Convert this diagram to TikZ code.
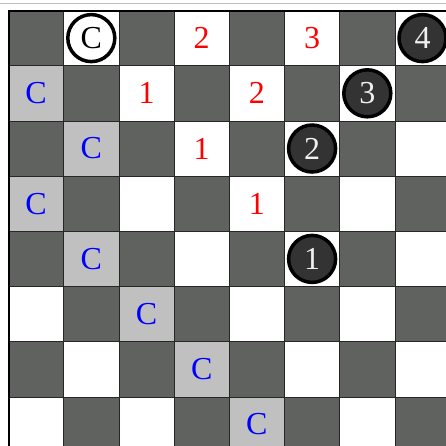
\documentclass[tikz,border=0pt]{standalone}
\usepackage{fontspec}
\setmainfont{Liberation Serif}
\definecolor{darksq}{HTML}{5F625F}
\definecolor{hilite}{HTML}{C0C0C0}
\definecolor{piecefill}{HTML}{333333}
\tikzset{
  sqdark/.style={fill=darksq},
  sqlight/.style={fill=white},
  sqhi/.style={fill=hilite},
  gridline/.style={line width=0.8pt, draw=black!85},
  borderline/.style={line width=2pt, draw=black},
  redlbl/.style={text=red, font=\fontsize{32}{32}\selectfont, inner sep=0pt},
  bluelbl/.style={text=blue, font=\fontsize{32}{32}\selectfont, inner sep=0pt},
  blackpiece/.style={circle, draw=black, line width=3.5pt, fill=piecefill, minimum size=47pt, inner sep=0pt, text=white!94!black, font=\fontsize{32}{32}\selectfont},
  whitepiece/.style={circle, draw=black, line width=3.5pt, fill=white, minimum size=47pt, inner sep=0pt, text=black, font=\fontsize{32}{32}\selectfont}
}
\begin{document}
\begin{tikzpicture}[x=1pt,y=-1pt]
\useasboundingbox (0,0) rectangle (446,445);
\fill[white] (0,0) rectangle (446,445);
\draw[line width=0.8pt, draw=black!25] (0,3) -- (446,3);
\begin{scope}
\clip (0,0) rectangle (446,445);
\begin{scope}[shift={(8.5,10.5)}, x=55.2pt, y=-55.2pt]
  \foreach \r in {0,...,7}{
    \foreach \c in {0,...,7}{
      \pgfmathtruncatemacro{\parity}{mod(\r+\c,2)}
      \ifnum\parity=0
        \fill[sqdark] (\c,\r) rectangle ++(1,1);
      \fi
    }
  }
  \foreach \r/\c in {1/0,2/1,3/0,4/1,5/2,6/3,7/4}{
    \fill[sqhi] (\c,\r) rectangle ++(1,1);
  }
  \foreach \i in {1,...,8}{
    \draw[gridline] (\i,0) -- (\i,8);
    \draw[gridline] (0,\i) -- (8,\i);
  }
  \draw[borderline] (0,8) -- (0,0) -- (8,0);
  % red numbers
  \node[redlbl] (r03) at (3.5,0.5) {2};
  \node[redlbl] (r05) at (5.5,0.5) {3};
  \node[redlbl] (r12) at (2.5,1.5) {1};
  \node[redlbl] (r14) at (4.5,1.5) {2};
  \node[redlbl] (r23) at (3.5,2.5) {1};
  \node[redlbl] (r34) at (4.5,3.5) {1};
  % blue C
  \node[bluelbl] (b10) at (0.5,1.5) {C};
  \node[bluelbl] (b21) at (1.5,2.5) {C};
  \node[bluelbl] (b30) at (0.5,3.5) {C};
  \node[bluelbl] (b41) at (1.5,4.5) {C};
  \node[bluelbl] (b52) at (2.5,5.5) {C};
  \node[bluelbl] (b63) at (3.5,6.5) {C};
  \node[bluelbl] (b74) at (4.5,7.5) {C};
  % pieces
  \node[whitepiece] (wC) at (1.5,0.5) {C};
  \node[blackpiece] (p4) at (7.5,0.5) {4};
  \node[blackpiece] (p3) at (6.5,1.5) {3};
  \node[blackpiece] (p2) at (5.5,2.5) {2};
  \node[blackpiece] (p1) at (5.5,4.5) {1};
\end{scope}
\end{scope}
\end{tikzpicture}
\end{document}
